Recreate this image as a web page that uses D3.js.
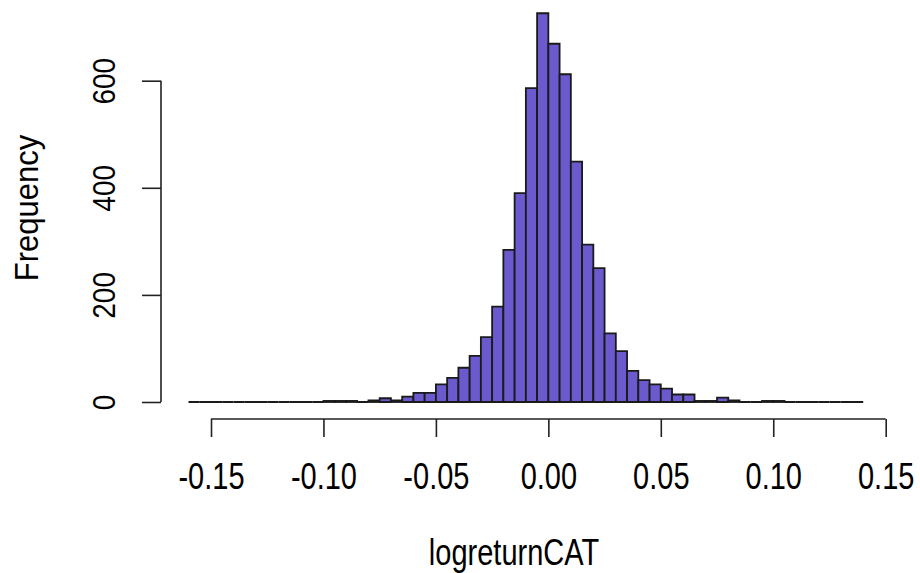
<!DOCTYPE html>
<html>
<head>
<meta charset="utf-8">
<script src="https://cdn.jsdelivr.net/npm/d3@7"></script>
<style>
html,body{margin:0;padding:0;background:#fff;}
svg text{font-family:"Liberation Sans",Arial,sans-serif;fill:#000;}
</style>
</head>
<body>
<svg id="chart" width="920" height="573"></svg>
<script>
// Histogram of logreturnCAT, bins of 0.005 from -0.16 to 0.14
const binStart = -0.16;
const binWidth = 0.005;
const counts = [
  0,0,0,0,0,0,0,0,0,0,0,0,
  2,2,2,0,3,7,3,10,17,17,
  33,45,64,86,121,178,284,390,586,726,
  669,612,449,294,250,128,95,58,41,33,
  25,14,14,2,2,8,3,0,0,2,
  2,0,0,0,0,0,0,0
];
const xTicks = [-0.15,-0.10,-0.05,0.00,0.05,0.10,0.15];
const yTicks = [0,200,400,600];
const xTitle = "logreturnCAT";
const yTitle = "Frequency";

const bins = counts.map((c,i)=>({x0: binStart + i*binWidth, x1: binStart + (i+1)*binWidth, n: c}));

const svg = d3.select("#chart");
const x = d3.scaleLinear().domain([-0.15,0.15]).range([211,885.7]);
const y = d3.scaleLinear().domain([0,600]).range([402,80.7]);

// bars (paths so that empty bins still show as a line on the baseline)
svg.append("g").selectAll("path").data(bins).join("path")
  .attr("d", d=>`M${x(d.x0)},${y(0)}V${y(d.n)}H${x(d.x1)}V${y(0)}Z`)
  .attr("fill","#6A5ACD")
  .attr("stroke","#1a1a1a")
  .attr("stroke-width",1.8)
  .attr("stroke-linejoin","miter");

// x axis
const xAxis = d3.axisBottom(x).tickValues(xTicks).tickSize(18).tickFormat("");
const gx = svg.append("g").attr("transform","translate(0,419)").call(xAxis);
gx.select(".domain").attr("stroke","#222").attr("stroke-width",1.6)
  .attr("d", `M${x(-0.15)},0H${x(0.15)}`);
gx.selectAll(".tick line").attr("stroke","#222").attr("stroke-width",1.6);
gx.selectAll(".tick").append("text")
  .attr("transform","translate(0,70) scale(1,1.3)")
  .attr("text-anchor","middle").attr("font-size",29).attr("fill","#000")
  .text(d=>d3.format(".2f")(d).replace("\u2212","-"));

// y axis
const yAxis = d3.axisLeft(y).tickValues(yTicks).tickSize(19).tickFormat("");
const gy = svg.append("g").attr("transform","translate(161,0)").call(yAxis);
gy.select(".domain").attr("stroke","#222").attr("stroke-width",1.6)
  .attr("d", `M0,${y(0)}V${y(600)}`);
gy.selectAll(".tick line").attr("stroke","#222").attr("stroke-width",1.6);
gy.selectAll(".tick").append("text")
  .attr("transform","translate(-46,0) rotate(-90) scale(1,1.15)")
  .attr("text-anchor","middle").attr("font-size",28).attr("fill","#000")
  .text(d=>d);

// titles
svg.append("text").attr("transform","translate(514,565) scale(1,1.3)")
  .attr("text-anchor","middle").attr("font-size",29).text(xTitle);
svg.append("text").attr("transform","translate(38,208) rotate(-90) scale(1,1.08)")
  .attr("text-anchor","middle").attr("font-size",31).text(yTitle);
</script>
</body>
</html>
